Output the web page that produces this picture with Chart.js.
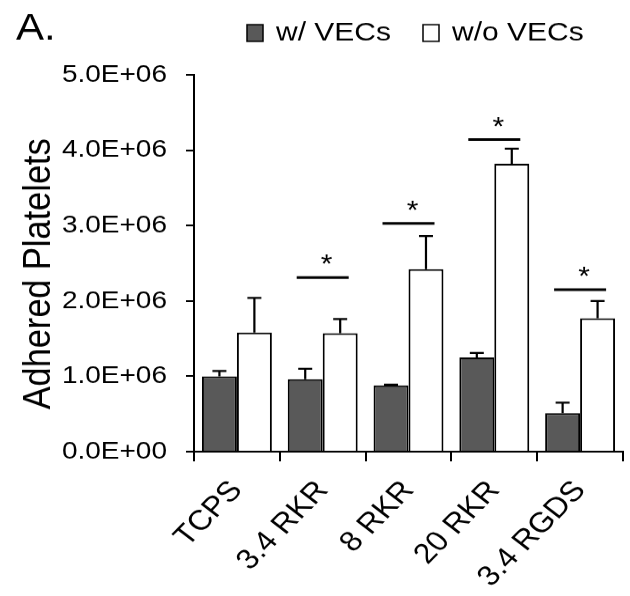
<!DOCTYPE html>
<html>
<head>
<meta charset="utf-8">
<script src="https://cdn.jsdelivr.net/npm/chart.js@4/dist/chart.umd.min.js"></script>
<style>
  body { margin: 0; background: #fff; }
  #chart { display: block; }
</style>
</head>
<body>
<!-- the source figure is a bit squashed vertically, so draw tall and squeeze -->
<canvas id="chart" width="630" height="677" style="width:630px;height:596px"></canvas>
<script>
const categories = ["TCPS", "3.4 RKR", "8 RKR", "20 RKR", "3.4 RGDS"];
const seriesNames = ["w/ VECs", "w/o VECs"];
const withVECs = [1.00e6, 0.96e6, 0.88e6, 1.25e6, 0.51e6];
const withVECsErr = [0.07e6, 0.14e6, 0.01e6, 0.06e6, 0.14e6];
const withoutVECs = [1.58e6, 1.57e6, 2.42e6, 3.82e6, 1.77e6];
const withoutVECsErr = [0.46e6, 0.19e6, 0.44e6, 0.20e6, 0.23e6];
// height of the significance bars (null = none)
const sigLevel = [null, 2.31e6, 3.03e6, 4.14e6, 2.15e6];
const yTickLabels = ["0.0E+00", "1.0E+06", "2.0E+06", "3.0E+06", "4.0E+06", "5.0E+06"];
const yTitle = "Adhered Platelets";

const FONT = "'Liberation Sans', Arial, sans-serif";
const errors = [withVECsErr, withoutVECsErr];

// error bars, upper half only
const errorBars = {
    id: "errorBars",
    afterDatasetsDraw(chart) {
        const ctx = chart.ctx;
        const y = chart.scales.y;
        ctx.save();
        ctx.strokeStyle = "#000";
        ctx.lineWidth = 2.2;
        chart.data.datasets.forEach((ds, i) => {
            chart.getDatasetMeta(i).data.forEach((bar, j) => {
                const top = y.getPixelForValue(ds.data[j] + errors[i][j]);
                ctx.beginPath();
                ctx.moveTo(bar.x, bar.y);
                ctx.lineTo(bar.x, top);
                ctx.moveTo(bar.x - 7, top);
                ctx.lineTo(bar.x + 7, top);
                ctx.stroke();
            });
        });
        ctx.restore();
    }
};

// significance lines with stars
const sigMarks = {
    id: "sigMarks",
    afterDatasetsDraw(chart) {
        const ctx = chart.ctx;
        const x = chart.scales.x;
        const y = chart.scales.y;
        ctx.save();
        ctx.strokeStyle = "#000";
        ctx.fillStyle = "#000";
        ctx.lineWidth = 3;
        ctx.font = "30px " + FONT;
        ctx.textAlign = "center";
        ctx.textBaseline = "alphabetic";
        sigLevel.forEach((lvl, j) => {
            if (lvl === null) return;
            const cx = x.getPixelForValue(j);
            const py = y.getPixelForValue(lvl);
            ctx.beginPath();
            ctx.moveTo(cx - 26, py);
            ctx.lineTo(cx + 26, py);
            ctx.stroke();
            ctx.fillText("*", cx + 4, py - 23 + 0.57 * 30);
        });
        ctx.restore();
    }
};

// panel letter, legend and y title
const header = {
    id: "header",
    afterDraw(chart) {
        const ctx = chart.ctx;
        const area = chart.chartArea;
        ctx.save();
        ctx.fillStyle = "#000";
        ctx.font = "42px " + FONT;
        ctx.textBaseline = "alphabetic";
        ctx.fillText("A.", 16, 45);

        ctx.font = "30px " + FONT;
        ctx.textBaseline = "middle";
        const boxX = [247, 423];
        chart.data.datasets.forEach((ds, i) => {
            ctx.fillStyle = ds.backgroundColor;
            ctx.strokeStyle = "#000";
            ctx.lineWidth = 1.5;
            ctx.fillRect(boxX[i], 28, 16, 19);
            ctx.strokeRect(boxX[i], 28, 16, 19);
            ctx.fillStyle = "#000";
            ctx.fillText(ds.label, boxX[i] + 29, 38);
        });

        // axis title sits a little below the middle of the axis
        ctx.translate(39, (area.top + area.bottom) / 2 + 12);
        ctx.rotate(-Math.PI / 2);
        ctx.font = "39px " + FONT;
        ctx.textAlign = "center";
        ctx.textBaseline = "middle";
        ctx.fillText(yTitle, 0, 0);
        ctx.restore();
    }
};

const ctx = document.getElementById("chart");
const chart = new Chart(ctx, {
    type: "bar",
    data: {
        labels: categories,
        datasets: [
            {
                label: seriesNames[0],
                data: withVECs,
                backgroundColor: "#595959",
                borderColor: "#000",
                borderWidth: 2,
            },
            {
                label: seriesNames[1],
                data: withoutVECs,
                backgroundColor: "#ffffff",
                borderColor: "#000",
                borderWidth: 2,
            },
        ],
    },
    options: {
        responsive: false,
        devicePixelRatio: 1,
        animation: false,
        layout: { padding: { top: 85, right: 7, left: 0, bottom: 0 } },
        datasets: { bar: { categoryPercentage: 0.815, barPercentage: 1.0 } },
        plugins: {
            legend: { display: false },
            tooltip: { enabled: false },
        },
        scales: {
            x: {
                grid: { display: true, drawOnChartArea: false, drawTicks: true, tickLength: 11, color: "#000", lineWidth: 2, offset: true },
                border: { display: true, color: "#000", width: 2 },
                ticks: {
                    color: "#000",
                    font: { family: FONT, size: 32 },
                    maxRotation: 49,
                    minRotation: 49,
                    padding: 15,
                },
                afterFit(scale) { scale.height = 164; },
            },
            y: {
                min: 0,
                max: 5e6,
                grid: { display: true, drawOnChartArea: false, drawTicks: true, tickLength: 8, color: "#000", lineWidth: 2 },
                border: { display: true, color: "#000", width: 2 },
                ticks: {
                    stepSize: 1e6,
                    color: "#000",
                    font: { family: FONT, size: 28 },
                    padding: 19,
                    callback: (v, i) => yTickLabels[i],
                },
                afterFit(scale) { scale.width = 194; },
            },
        },
    },
    plugins: [errorBars, sigMarks, header],
});
</script>
</body>
</html>
